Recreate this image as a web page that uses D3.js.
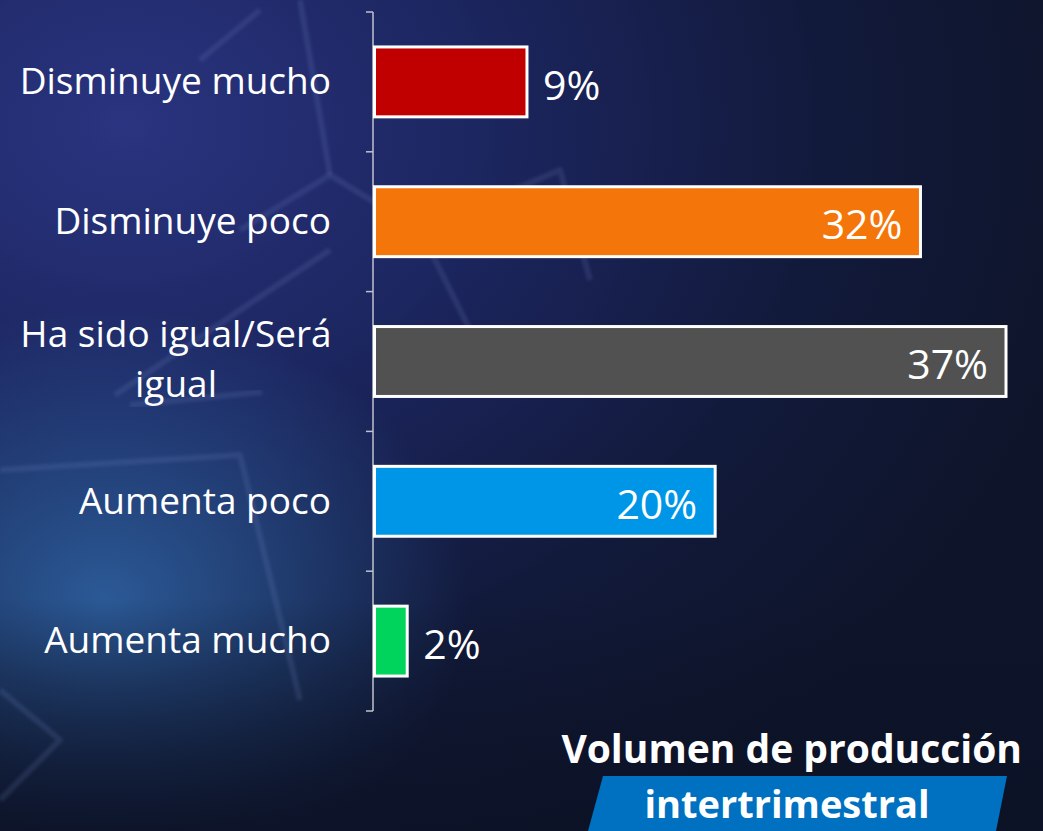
<!DOCTYPE html>
<html>
<head>
<meta charset="utf-8">
<script src="https://cdn.jsdelivr.net/npm/d3@7"></script>
<style>
html,body{margin:0;padding:0;background:#111a33;}
svg{display:block;}
text{font-family:"Open Sans","Noto Sans",sans-serif;fill:#fff;}
</style>
</head>
<body>
<svg id="svg" width="1043" height="831"></svg>
<script>
var width=+d3.select("#svg").attr("width")
var height=+d3.select("#svg").attr("height")

// data
var categories=["Disminuye mucho","Disminuye poco","Ha sido igual/Será igual","Aumenta poco","Aumenta mucho"]
var values=[9,32,37,20,2]
var barColors=["#c00000","#f4760b","#515151","#0096e8","#00d45c"]
var titleLines=["Volumen de producción","intertrimestral"]

var svg=d3.select("#svg")
var margin={top:12,left:373,bottom:120}

// background
var defs=svg.append("defs")
var bg=defs.append("radialGradient").attr("id","bg")
        .attr("cx","0.12").attr("cy","0.15").attr("r","0.95")
bg.append("stop").attr("offset","0").attr("stop-color","#2a3480")
bg.append("stop").attr("offset","0.35").attr("stop-color","#1c2660")
bg.append("stop").attr("offset","0.7").attr("stop-color","#121a3c")
bg.append("stop").attr("offset","1").attr("stop-color","#0e1429")
svg.append("rect").attr("width",width).attr("height",height).attr("fill","url(#bg)")

var glow=defs.append("radialGradient").attr("id","glow")
        .attr("cx","0.1").attr("cy","0.72").attr("r","0.35")
glow.append("stop").attr("offset","0").attr("stop-color","#2f64a4").attr("stop-opacity","0.85")
glow.append("stop").attr("offset","1").attr("stop-color","#2f64a4").attr("stop-opacity","0")
svg.append("rect").attr("width",width).attr("height",height).attr("fill","url(#glow)")

var shade=defs.append("linearGradient").attr("id","shade").attr("x1","0").attr("y1","0").attr("x2","0").attr("y2","1")
shade.append("stop").attr("offset","0.72").attr("stop-color","#0c1226").attr("stop-opacity","0")
shade.append("stop").attr("offset","1").attr("stop-color","#0c1226").attr("stop-opacity","0.85")
svg.append("rect").attr("width",width).attr("height",height).attr("fill","url(#shade)")

// faint ball seams
defs.append("filter").attr("id","soft").append("feGaussianBlur").attr("stdDeviation",1.5)
var seams=["M0,470 L240,455 L300,700","M115,395 L255,300 L330,250","M130,405 L262,392","M240,230 L330,175 L420,230 L470,330",
        "M330,175 L300,0","M420,230 L560,170 L590,280","M0,690 L60,740 L0,800","M200,60 L260,10"]
svg.selectAll(".seam").data(seams).enter().append("path")
        .attr("d",d=>d).attr("fill","none")
        .attr("stroke","#7a90d0").attr("stroke-opacity",0.16).attr("stroke-width",6)
        .attr("stroke-linejoin","round").attr("filter","url(#soft)")

var x=d3.scaleLinear().domain([0,37]).range([margin.left,1006])
var y=d3.scaleBand().domain(categories).range([margin.top,711]).paddingInner(0.5).paddingOuter(0.25)

// axis
var axis=svg.append("g").attr("transform","translate("+margin.left+",0)")
        .call(d3.axisLeft(y).tickSize(0).tickFormat(""))
axis.select(".domain").remove()
var band=y.step()
var tickYs=d3.range(categories.length+1).map(i=>margin.top+i*band)
axis.append("line").attr("y1",margin.top).attr("y2",711).attr("stroke","#bfc3cc").attr("stroke-width",1.5)
axis.selectAll(".tk").data(tickYs).enter().append("line")
        .attr("x1",-7).attr("x2",0).attr("y1",d=>d).attr("y2",d=>d)
        .attr("stroke","#bfc3cc").attr("stroke-width",1.5)

// bars
svg.selectAll(".bar").data(categories).enter().append("rect")
        .attr("x",x(0)+1.5)
        .attr("y",d=>y(d))
        .attr("width",(d,i)=>x(values[i])-x(0)-1.5)
        .attr("height",y.bandwidth())
        .attr("fill",(d,i)=>barColors[i])
        .attr("stroke","#fff").attr("stroke-width",3)

// value labels
svg.selectAll(".val").data(categories).enter().append("text")
        .text((d,i)=>values[i]+"%")
        .attr("x",(d,i)=>values[i]>10?x(values[i])-18:x(values[i])+16)
        .attr("y",d=>y(d)+y.bandwidth()/2)
        .attr("dy","0.43em")
        .attr("text-anchor",(d,i)=>values[i]>10?"end":"start")
        .style("font-size","41px")

// category labels
svg.selectAll(".cat").data(categories).enter().append("text")
        .attr("y",d=>y(d)+y.bandwidth()/2)
        .style("font-size","37px")
        .each(function(d){
            var t=d3.select(this)
            var lines=d=="Ha sido igual/Será igual"?["Ha sido igual/Será","igual"]:[d]
            lines.forEach((l,j)=>{
                t.append("tspan").text(l)
                    .attr("x",lines.length>1?176:331)
                    .attr("text-anchor",lines.length>1?"middle":"end")
                    .attr("dy",j==0?(lines.length>1?"-0.38em":"0.33em"):"1.35em")
            })
        })

// title
svg.append("path")
        .attr("d","M603,776 L1007,776 L996,831 L588,831 Z")
        .attr("fill","#0070c0")
svg.append("text").text(titleLines[0])
        .attr("x",1022).attr("y",763).attr("text-anchor","end")
        .style("font-size","39px").style("font-weight","bold")
svg.append("text").text(titleLines[1])
        .attr("x",787).attr("y",818).attr("text-anchor","middle")
        .style("font-size","38px").style("font-weight","bold")
</script>
</body>
</html>
